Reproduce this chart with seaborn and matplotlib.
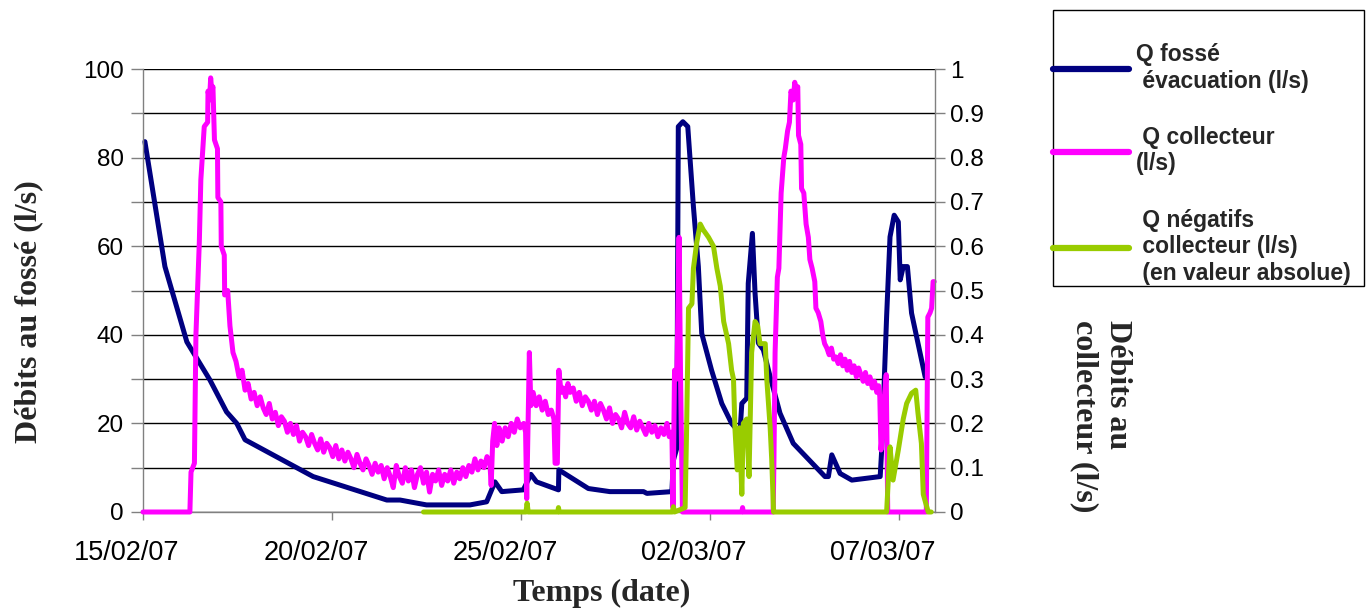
import numpy as np
import pandas as pd
import matplotlib
matplotlib.use("Agg")
import matplotlib.pyplot as plt
import matplotlib.dates as mdates
import matplotlib.transforms as mtransforms
from matplotlib.ticker import MultipleLocator, FuncFormatter
from matplotlib.patches import Rectangle
from matplotlib.lines import Line2D
from matplotlib.font_manager import FontProperties
import seaborn as sns

# ---------------- data (days since 15/02/2007) ----------------
fosse_days = [0.05, 0.58, 1.16, 1.77, 2.21, 2.48, 2.70, 4.50, 6.45, 6.80, 7.50, 8.65,
              9.09, 9.31, 9.49, 10.06, 10.26, 10.41, 10.99, 11.00, 11.78, 12.35, 13.24,
              13.33, 13.99, 14.03, 14.12, 14.16, 14.28, 14.41, 14.56, 14.69, 14.78,
              15.04, 15.31, 15.57, 15.79, 15.84, 15.97, 16.01, 16.12, 16.19, 16.28,
              16.41, 16.59, 16.85, 17.20, 18.04, 18.13, 18.22, 18.44, 18.75, 19.50,
              19.54, 19.67, 19.76, 19.87, 19.98, 20.03, 20.11, 20.22, 20.33, 20.69]
fosse_vals = [83.6, 55.4, 38.4, 29.8, 22.6, 20.0, 16.3, 8.0, 2.7, 2.7, 1.6, 1.6,
              2.3, 6.8, 4.6, 5.0, 8.5, 6.8, 5.0, 9.5, 5.3, 4.6, 4.6,
              4.2, 4.6, 11.7, 14.4, 87.0, 88.1, 87.0, 68.9, 55.4, 40.3,
              32.0, 24.5, 20.0, 17.8, 24.5, 25.7, 51.6, 62.9, 49.4, 38.1,
              36.6, 30.5, 22.3, 15.5, 8.0, 8.0, 12.9, 8.7, 7.2, 8.0,
              14.0, 44.1, 62.1, 67.0, 65.5, 52.4, 55.4, 55.4, 44.9, 30.5]

coll_days = [0.00, 1.24, 1.27, 1.36, 1.40, 1.49, 1.53, 1.62, 1.71, 1.72, 1.76, 1.79, 1.82,
             1.85, 1.89, 1.97, 1.98, 2.06, 2.07, 2.15, 2.16, 2.24,
             2.30, 2.38, 2.46, 2.54, 2.62, 2.70, 2.78, 2.86, 2.94, 3.02, 3.10, 3.18, 3.26,
             3.34, 3.42, 3.50, 3.58, 3.66, 3.74, 3.82, 3.90, 3.98, 4.06, 4.14, 4.22, 4.30,
             4.38, 4.46, 4.54, 4.62, 4.70, 4.78, 4.86, 4.94, 5.02, 5.10, 5.18, 5.26, 5.34,
             5.42, 5.50, 5.58, 5.66, 5.74, 5.82, 5.90, 5.98, 6.06, 6.14, 6.22, 6.30, 6.38,
             6.46, 6.54, 6.62, 6.70, 6.78, 6.86, 6.94, 7.02, 7.10, 7.18, 7.26, 7.34, 7.42,
             7.50, 7.58, 7.66, 7.74, 7.82, 7.90, 7.98, 8.06, 8.14, 8.22, 8.30, 8.38, 8.46,
             8.54, 8.62, 8.70, 8.78, 8.86, 8.94, 9.02, 9.10, 9.18,
             9.21, 9.25, 9.30, 9.36, 9.42, 9.50, 9.58, 9.66, 9.74, 9.82, 9.90, 9.98, 10.07,
             10.12, 10.15, 10.22, 10.26, 10.32, 10.40, 10.48, 10.56, 10.64, 10.72, 10.80,
             10.87, 10.90, 10.96,
             11.00, 11.06, 11.12, 11.18, 11.24, 11.30, 11.38, 11.46, 11.54, 11.62, 11.70,
             11.78, 11.86, 11.94, 12.02, 12.10, 12.18, 12.26, 12.34, 12.42, 12.50, 12.58,
             12.66, 12.74, 12.82, 12.90, 12.98, 13.06, 13.14, 13.22, 13.30, 13.38, 13.46,
             13.54, 13.62, 13.70, 13.78, 13.86, 13.92, 13.99,
             14.02, 14.06, 14.12, 14.18, 14.22, 14.27, 15.84, 15.86, 15.88,
             16.67, 16.69, 16.72, 16.78, 16.82, 16.88, 16.95, 16.99, 17.05, 17.10, 17.14,
             17.20, 17.24, 17.28, 17.32, 17.34, 17.40, 17.42, 17.48, 17.54, 17.60, 17.64,
             17.70, 17.77, 17.80, 17.86, 17.93, 17.98, 18.03, 18.09, 18.15, 18.21, 18.27,
             18.33, 18.39, 18.45, 18.51, 18.57, 18.63, 18.69, 18.75, 18.81, 18.87, 18.93,
             18.99, 19.05, 19.11, 19.17, 19.23, 19.29, 19.35, 19.41, 19.46, 19.49, 19.52,
             19.58, 19.62, 19.66, 19.70, 20.72,
             20.76, 20.82, 20.86, 20.90, 20.93]
coll_vals = [0.00, 0.00, 0.09, 0.11, 0.40, 0.61, 0.75, 0.87, 0.88, 0.95, 0.93, 0.98, 0.95,
             0.96, 0.84, 0.82, 0.71, 0.70, 0.60, 0.58, 0.49, 0.50,
             0.42, 0.36, 0.34, 0.305, 0.32, 0.275, 0.29, 0.255, 0.27, 0.24, 0.26, 0.235, 0.22,
             0.245, 0.21, 0.225, 0.195, 0.215, 0.205, 0.18, 0.20, 0.175, 0.195, 0.16, 0.18, 0.17,
             0.15, 0.175, 0.155, 0.14, 0.165, 0.135, 0.155, 0.145, 0.125, 0.15, 0.12, 0.14, 0.115,
             0.135, 0.12, 0.10, 0.13, 0.11, 0.095, 0.12, 0.105, 0.085, 0.11, 0.09, 0.105, 0.075,
             0.10, 0.08, 0.055, 0.105, 0.08, 0.065, 0.10, 0.07, 0.095, 0.055, 0.085, 0.10, 0.065,
             0.09, 0.045, 0.085, 0.07, 0.095, 0.06, 0.085, 0.07, 0.095, 0.065, 0.09, 0.075, 0.10,
             0.08, 0.105, 0.09, 0.12, 0.095, 0.115, 0.10, 0.125, 0.105,
             0.06, 0.16, 0.20, 0.15, 0.19, 0.16, 0.19, 0.17, 0.20, 0.18, 0.21, 0.19, 0.20,
             0.18, 0.03, 0.36, 0.24, 0.27, 0.24, 0.26, 0.23, 0.25, 0.22, 0.23,
             0.21, 0.11, 0.11,
             0.32, 0.27, 0.28, 0.26, 0.29, 0.27, 0.28, 0.25, 0.27, 0.24, 0.26,
             0.25, 0.23, 0.25, 0.22, 0.245, 0.23, 0.21, 0.235, 0.20, 0.22, 0.21,
             0.19, 0.225, 0.20, 0.19, 0.215, 0.185, 0.205, 0.19, 0.175, 0.20, 0.18,
             0.195, 0.17, 0.19, 0.175, 0.20, 0.17, 0.18,
             0.01, 0.32, 0.30, 0.62, 0.30, 0.00, 0.00, 0.01, 0.00,
             0.00, 0.12, 0.36, 0.53, 0.55, 0.72, 0.80, 0.82, 0.86, 0.88, 0.95,
             0.93, 0.97, 0.95, 0.96, 0.85, 0.83, 0.73, 0.72, 0.65, 0.62, 0.57,
             0.55, 0.52, 0.46, 0.45, 0.43, 0.40, 0.38, 0.37, 0.355, 0.37, 0.345,
             0.35, 0.335, 0.355, 0.33, 0.345, 0.32, 0.34, 0.315, 0.33, 0.305, 0.325,
             0.31, 0.295, 0.315, 0.29, 0.305, 0.28, 0.295, 0.27, 0.285, 0.26, 0.14,
             0.20, 0.27, 0.31, 0.00, 0.00,
             0.44, 0.45, 0.46, 0.52, 0.52]

neg_days = [7.42, 10.13, 10.16, 10.19, 10.97, 10.99, 11.01, 14.00, 14.03, 14.06, 14.34,
            14.38, 14.43, 14.52, 14.56, 14.65, 14.74, 14.82, 14.96, 15.09, 15.18, 15.27,
            15.36, 15.49, 15.57, 15.62, 15.66, 15.72, 15.78, 15.84, 15.88, 15.97, 16.03,
            16.10, 16.19, 16.26, 16.32, 16.46, 16.50, 16.59, 16.63, 16.68, 19.67, 19.76,
            19.84, 19.98, 20.11, 20.20, 20.33, 20.44, 20.50, 20.59, 20.64, 20.77, 20.85]
neg_vals = [0.00, 0.00, 0.02, 0.00, 0.00, 0.01, 0.00, 0.00, 0.012, 0.00, 0.01,
            0.19, 0.46, 0.47, 0.55, 0.61, 0.65, 0.637, 0.62, 0.60, 0.55, 0.51,
            0.43, 0.38, 0.32, 0.30, 0.185, 0.095, 0.19, 0.04, 0.20, 0.21, 0.08,
            0.36, 0.43, 0.42, 0.38, 0.38, 0.30, 0.19, 0.12, 0.00, 0.00, 0.147,
            0.072, 0.14, 0.21, 0.245, 0.268, 0.275, 0.223, 0.155, 0.04, 0.00, 0.00]

x_tick_dates = ["2007-02-15", "2007-02-20", "2007-02-25", "2007-03-02", "2007-03-07"]
left_ticks = [0, 20, 40, 60, 80, 100]
right_ticks = [0, 0.1, 0.2, 0.3, 0.4, 0.5, 0.6, 0.7, 0.8, 0.9, 1]
legend_labels = ["Q fossé\n évacuation (l/s)",
                 " Q collecteur\n(l/s)",
                 " Q négatifs\n collecteur (l/s)\n (en valeur absolue)"]

START = pd.Timestamp("2007-02-15")


def to_time(days):
    return START + pd.to_timedelta(np.asarray(days, dtype=float), unit="D")


# ---------------- figure ----------------
sns.set_style("white")
plt.rcParams["font.family"] = ["Liberation Sans", "DejaVu Sans"]

W, H = 1372, 609
fig = plt.figure(figsize=(W / 100, H / 100), dpi=100)
fig.patch.set_facecolor("white")

L, R, T, B = 143, 935, 69, 512
ax = fig.add_axes([L / W, 1 - B / H, (R - L) / W, (B - T) / H])
ax2 = ax.twinx()

C_BLUE, C_PINK, C_GREEN = "#000080", "#FF00FF", "#99CC00"
lw = 3.6
common = dict(estimator=None, sort=False, linewidth=lw, solid_joinstyle="round",
              solid_capstyle="round", clip_on=False, legend=False)

sns.lineplot(x=to_time(fosse_days), y=fosse_vals, ax=ax, color=C_BLUE, **common)
sns.lineplot(x=to_time(coll_days), y=coll_vals, ax=ax2, color=C_PINK, **common)
sns.lineplot(x=to_time(neg_days), y=neg_vals, ax=ax2, color=C_GREEN, **common)

# limits
ax.set_xlim(to_time(0.0), to_time(20.95))
ax.set_ylim(0, 100)
ax2.set_ylim(0, 1)

# grid
ax.set_yticks(left_ticks)
ax.yaxis.set_minor_locator(MultipleLocator(10))
ax.grid(False)
ax2.grid(False)
ax.grid(True, axis="y", which="both", color="black", linewidth=1.0)
ax.set_axisbelow(True)

# x ticks
ax.set_xticks(pd.to_datetime(x_tick_dates))
ax.xaxis.set_major_formatter(mdates.DateFormatter("%d/%m/%y"))
ax2.set_yticks(right_ticks)
ax2.yaxis.set_major_formatter(FuncFormatter(lambda v, p: f"{v:g}"))

GRAY = "#808080"
for a in (ax, ax2):
    for s in a.spines.values():
        s.set_color(GRAY)
        s.set_linewidth(1.0)
    a.spines["top"].set_visible(False)
ax.spines["right"].set_visible(False)
ax2.spines["left"].set_visible(False)
ax2.spines["bottom"].set_visible(False)

ax.tick_params(axis="y", which="both", direction="out", left=True, length=9, width=1,
               color=GRAY, labelsize=17.5, pad=5, labelcolor="black")
ax.tick_params(axis="x", direction="out", bottom=True, length=6, width=1, color=GRAY,
               labelsize=19.5, pad=14, labelcolor="black")
ax2.tick_params(axis="y", direction="out", right=True, length=7, width=1, color=GRAY,
                labelsize=17.5, pad=4, labelcolor="black")
ax.set_xlabel("")
ax.set_ylabel("")
ax2.set_ylabel("")

# date labels sit slightly left of their tick marks in the reference
shift = mtransforms.ScaledTranslation(-16 / 100, 0, fig.dpi_scale_trans)
for lab in ax.get_xticklabels():
    lab.set_transform(lab.get_transform() + shift)

# axis titles
serif = dict(family=["Liberation Serif", "DejaVu Serif"], weight="bold", size=23)
fig.text(602 / W, 1 - 593 / H, "Temps (date)", ha="center", va="center", **serif)
fig.text(29 / W, 1 - 312 / H, "Débits au fossé (l/s)", rotation=90,
         ha="center", va="center", **serif)
fig.text(1101 / W, 1 - 320 / H, "Débits au\ncollecteur (l/s)", rotation=270,
         ha="center", va="top", multialignment="left", **serif)

# legend
handles = [Line2D([], [], color=c, linewidth=4.5) for c in (C_BLUE, C_PINK, C_GREEN)]
fig.legend(handles, legend_labels, loc="upper left",
           bbox_to_anchor=(1053 / W, 1 - 43 / H), frameon=False,
           prop=FontProperties(family="Liberation Sans", weight="bold", size=16.5),
           handlelength=3.3, handletextpad=0.3, labelspacing=1.45,
           borderpad=0, borderaxespad=0)
fig.add_artist(Rectangle((1053 / W, 1 - 286 / H), (1364 - 1053) / W, (286 - 10) / H,
                         transform=fig.transFigure, fill=False, edgecolor="black",
                         linewidth=1.0))

fig.savefig("out.png", dpi=100)
